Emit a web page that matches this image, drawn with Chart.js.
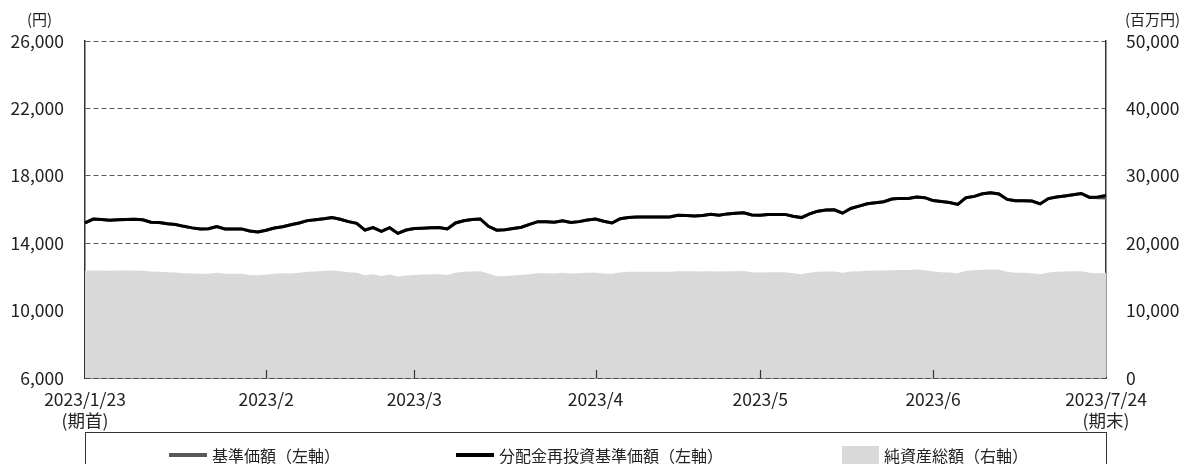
<!DOCTYPE html>
<html lang="ja">
<head>
<meta charset="utf-8">
<script src="https://cdn.jsdelivr.net/npm/chart.js@4.4.0/dist/chart.umd.min.js"></script>
<style>
    html, body { margin: 0; padding: 0; background: #fff; }
    #wrap {
        position: relative;
        width: 1184px;
        height: 464px;
        overflow: hidden;
        font-family: "Noto Sans CJK JP", sans-serif;
        color: #222;
    }
    #chart { position: absolute; left: 0; top: 0; }
    .unit { position: absolute; top: 10px; font-size: 15px; line-height: 18px; }
    #legend {
        position: absolute;
        left: 85px;
        top: 432px;
        width: 1022px;
        height: 44px;
        border: 1px solid #333;
        box-sizing: border-box;
    }
    .item {
        position: absolute;
        top: 12px;
        font-size: 16px;
        line-height: 20px;
        display: flex;
        align-items: center;
        white-space: nowrap;
    }
    .swatch { display: inline-block; margin-right: 5px; }
</style>
</head>
<body>
<div id="wrap">
    <canvas id="chart" width="1184" height="464"></canvas>
    <span class="unit" style="left:27px">(円)</span>
    <span class="unit" style="left:1125px">(百万円)</span>
    <div id="legend">
        <div class="item" style="left:83px">
            <span class="swatch" style="width:38px;height:4px;background:#595959"></span>基準価額（左軸）
        </div>
        <div class="item" style="left:370px">
            <span class="swatch" style="width:38px;height:4px;background:#000"></span>分配金再投資基準価額（左軸）
        </div>
        <div class="item" style="left:756px">
            <span class="swatch" style="width:37px;height:18px;background:#d9d9d9"></span>純資産総額（右軸）
        </div>
    </div>
</div>

<script>
// ==========================
// DATA
// ==========================

const tickPos = [0, 22, 40, 62, 82, 103, 124];
const tickText = [
    ["2023/1/23", "(期首)"],
    "2023/2",
    "2023/3",
    "2023/4",
    "2023/5",
    "2023/6",
    ["2023/7/24", "(期末)"]
];

// 分配金再投資基準価額 (left axis, yen)
const reinvPrice = [
    15200, 15430, 15400, 15360, 15390, 15410, 15420, 15390, 15250, 15230, 15150, 15110, 15000, 14910, 14850, 14860, 14990, 14850, 14850, 14850, 14720, 14660, 14770, 14900, 14980,
    15090, 15200, 15340, 15390, 15450, 15520, 15420, 15280, 15180, 14780, 14930, 14700, 14920, 14580, 14780, 14870, 14890, 14910, 14930, 14850, 15200, 15330, 15400, 15440, 15000,
    14770, 14800, 14870, 14950, 15120, 15280, 15280, 15240, 15330, 15230, 15280, 15380, 15430, 15300, 15200, 15450, 15530, 15560, 15560, 15560, 15560, 15560, 15660, 15650, 15620,
    15650, 15720, 15660, 15740, 15780, 15810, 15680, 15660, 15700, 15700, 15710, 15600, 15520, 15740, 15900, 15970, 15980, 15780, 16060, 16200, 16340, 16400, 16460, 16620, 16660,
    16660, 16740, 16700, 16530, 16480, 16420, 16300, 16700, 16780, 16930, 17000, 16920, 16600, 16520, 16520, 16500, 16330, 16650, 16740, 16800, 16870, 16950, 16720, 16740, 16830
];

// 基準価額 (left axis, yen)
const basePrice = [
    15200, 15430, 15400, 15360, 15390, 15410, 15420, 15390, 15250, 15230, 15150, 15110, 15000, 14910, 14850, 14860, 14990, 14850, 14850, 14850, 14720, 14660, 14770, 14900, 14980,
    15090, 15200, 15340, 15390, 15450, 15520, 15420, 15280, 15180, 14780, 14930, 14700, 14920, 14580, 14780, 14870, 14890, 14910, 14930, 14850, 15200, 15330, 15400, 15440, 15000,
    14770, 14800, 14870, 14950, 15120, 15280, 15280, 15240, 15330, 15230, 15280, 15380, 15430, 15300, 15200, 15450, 15530, 15560, 15560, 15560, 15560, 15560, 15660, 15650, 15620,
    15650, 15720, 15660, 15740, 15780, 15810, 15680, 15660, 15700, 15700, 15710, 15600, 15520, 15740, 15900, 15970, 15980, 15780, 16060, 16200, 16340, 16400, 16460, 16620, 16660,
    16660, 16740, 16700, 16530, 16480, 16420, 16300, 16700, 16780, 16930, 17000, 16920, 16600, 16520, 16520, 16500, 16330, 16650, 16740, 16800, 16870, 16950, 16720, 16700, 16680
];

// 純資産総額 (right axis, million yen)
const netAssets = [
    15900, 15950, 15950, 15930, 15950, 15960, 15950, 15900, 15800, 15780, 15700, 15650, 15550, 15500, 15450, 15480, 15600, 15450, 15450, 15450, 15300, 15250, 15350, 15450, 15550,
    15500, 15600, 15750, 15800, 15900, 15950, 15850, 15700, 15600, 15250, 15400, 15150, 15350, 15050, 15200, 15300, 15350, 15400, 15400, 15300, 15600, 15750, 15800, 15850, 15500,
    15100, 15150, 15200, 15300, 15400, 15550, 15550, 15500, 15600, 15500, 15550, 15600, 15650, 15500, 15450, 15650, 15750, 15780, 15780, 15780, 15780, 15780, 15850, 15820, 15820,
    15800, 15850, 15800, 15850, 15850, 15880, 15700, 15650, 15700, 15700, 15700, 15550, 15400, 15600, 15750, 15800, 15800, 15600, 15800, 15850, 15900, 15950, 15950, 16000, 16030,
    16030, 16080, 16000, 15800, 15700, 15650, 15550, 15900, 16000, 16050, 16100, 16050, 15750, 15600, 15600, 15550, 15400, 15650, 15750, 15800, 15820, 15850, 15600, 15550, 15600
];

const labels = reinvPrice.map((v, i) => {
    const k = tickPos.indexOf(i);
    return k >= 0 ? tickText[k] : "";
});


// ==========================
// PLUGIN: month tick marks inside the plot
// ==========================

const innerTicks = {
    id: "innerTicks",
    afterDatasetsDraw(chart) {
        const ctx = chart.ctx;
        const x = chart.scales.x;
        const bottom = chart.chartArea.bottom;
        ctx.save();
        ctx.strokeStyle = "#333";
        ctx.lineWidth = 1.2;
        tickPos.slice(1, -1).forEach(i => {
            const px = Math.round(x.getPixelForValue(i)) + 0.5;
            ctx.beginPath();
            ctx.moveTo(px, bottom);
            ctx.lineTo(px, bottom - 8);
            ctx.stroke();
        });
        ctx.restore();
    }
};


// ==========================
// CHART
// ==========================

const tickFont = { family: "'Noto Sans CJK JP', sans-serif", size: 17.5 };

new Chart(document.getElementById("chart"), {
    type: "line",
    data: {
        labels: labels,
        datasets: [
            {
                label: "分配金再投資基準価額（左軸）",
                data: reinvPrice,
                yAxisID: "y",
                borderColor: "#000",
                borderWidth: 3,
                pointRadius: 0,
                tension: 0,
                order: 1
            },
            {
                label: "基準価額（左軸）",
                data: basePrice,
                yAxisID: "y",
                borderColor: "#595959",
                borderWidth: 3,
                pointRadius: 0,
                tension: 0,
                order: 2
            },
            {
                label: "純資産総額（右軸）",
                data: netAssets,
                yAxisID: "y2",
                borderWidth: 0,
                borderColor: "rgba(0,0,0,0)",
                backgroundColor: "#d9d9d9",
                fill: "start",
                pointRadius: 0,
                tension: 0,
                order: 3
            }
        ]
    },
    options: {
        responsive: false,
        animation: false,
        devicePixelRatio: 1,
        layout: {
            padding: { top: 41, left: 0, right: 0, bottom: 0 }
        },
        plugins: {
            legend: { display: false },
            tooltip: { enabled: false }
        },
        scales: {
            x: {
                type: "category",
                offset: false,
                grid: { display: false },
                border: { display: true, color: "#333", width: 1.5 },
                ticks: {
                    autoSkip: false,
                    maxRotation: 0,
                    padding: 3,
                    color: "#222",
                    font: tickFont
                },
                afterFit(scale) { scale.height = 86; }
            },
            y: {
                position: "left",
                min: 6000,
                max: 26000,
                grid: {
                    color: "#5a5a5a",
                    lineWidth: 1,
                    drawTicks: false
                },
                border: { display: true, color: "#333", width: 1.5, dash: [5, 3] },
                ticks: {
                    stepSize: 4000,
                    padding: 21,
                    color: "#222",
                    font: tickFont,
                    callback: v => v.toLocaleString("en-US")
                },
                afterFit(scale) { scale.width = 85; }
            },
            y2: {
                position: "right",
                min: 0,
                max: 50000,
                grid: { drawOnChartArea: false, drawTicks: false },
                border: { display: true, color: "#333", width: 1.5 },
                ticks: {
                    stepSize: 10000,
                    padding: 20,
                    color: "#222",
                    font: tickFont,
                    callback: v => v.toLocaleString("en-US")
                },
                afterFit(scale) { scale.width = 78; }
            }
        }
    },
    plugins: [innerTicks]
});
</script>
</body>
</html>
